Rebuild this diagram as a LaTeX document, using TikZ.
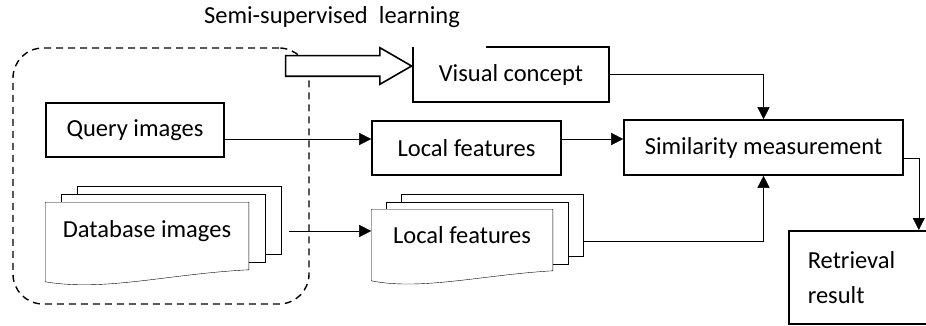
\documentclass[tikz,border=0pt]{standalone}
\usepackage{fontspec}
\setmainfont{Carlito}
\usetikzlibrary{arrows.meta,shapes.arrows,backgrounds}
\tikzset{
  box/.style={draw, rectangle, inner sep=0pt},
  docbox/.style={rectangle, inner sep=0pt},
  page/.style={draw, fill=white},
  arr/.style={-{Triangle[length=12pt,width=12pt]}}
}
\begin{document}
\begin{tikzpicture}[x=1pt, y=-1pt, line width=1.6pt,
    font=\fontsize{24.5}{35}\selectfont]
  \useasboundingbox (0,0) rectangle (926,326);
  \node[draw, line width=1.4pt, dash pattern=on 7pt off 5pt, rounded corners=30pt,
    minimum width=296pt, minimum height=256pt] (group) at (161,176) {};
  \node[box, minimum width=178pt, minimum height=54pt] (query) at (135,130) {Query images};
  \node[docbox, minimum width=202pt, minimum height=56pt] (dbimg) at (147,231) {Database images};
  \node[docbox, minimum width=194pt, minimum height=53pt] (visual) at (511,74.5) {Visual concept};
  \node[box, minimum width=189pt, minimum height=54pt] (local) at (466.5,148) {Local features};
  \node[docbox, minimum width=180pt, minimum height=50pt] (locb) at (462,235) {Local features};
  \node[box, minimum width=279pt, minimum height=55pt] (sim) at (763.5,147.5) {Similarity measurement};
  \node[box, anchor=north west, minimum width=160pt, minimum height=93pt,
    text width=122pt, inner xsep=19pt, align=left] (result) at (788,230) {Retrieval\\result};
  \node[single arrow, draw, fill=white, inner sep=9.5pt, minimum height=126pt,
    single arrow head extend=8pt, single arrow tip angle=60, anchor=tip]
    (semi) at ([yshift=8.5pt]visual.west) {};
  \node (semilabel) at (332,17) {Semi-supervised\ \ learning};
  \draw ([xshift=73pt]visual.north west) -- (visual.north east) -- (visual.south east)
    -- (visual.south west) -- (visual.north west);
  \begin{pgfonlayer}{background}
    \draw[page] ([xshift=32pt,yshift=6pt]dbimg.south west) rectangle ([xshift=32pt,yshift=16pt]dbimg.north east);
    \draw[page] ([xshift=16pt,yshift=-2pt]dbimg.south west) rectangle ([xshift=16pt,yshift=8pt]dbimg.north east);
    \draw[page] ([yshift=-10pt]dbimg.south east) -- (dbimg.north east) -- (dbimg.north west)
      -- ([yshift=-22pt]dbimg.south west) .. controls +(60,10) and +(-80,4) .. ([yshift=-10pt]dbimg.south east);
    \draw[page] ([xshift=30pt,yshift=5pt]locb.south west) rectangle ([xshift=30pt,yshift=15pt]locb.north east);
    \draw[page] ([xshift=15pt,yshift=-3pt]locb.south west) rectangle ([xshift=15pt,yshift=7pt]locb.north east);
    \draw[page] ([yshift=-10pt]locb.south east) -- (locb.north east) -- (locb.north west)
      -- ([yshift=-20pt]locb.south west) .. controls +(50,10) and +(-70,4) .. ([yshift=-10pt]locb.south east);
  \end{pgfonlayer}
  \coordinate (dbout) at ([xshift=40pt]dbimg.east);
  \coordinate (lbout) at ([xshift=30pt,yshift=-6pt]locb.east);
  \begin{scope}[arr]
    \draw ([yshift=-9pt]query.east) -- ([yshift=9pt]local.west);
    \draw ([yshift=9pt]local.east) -- ([yshift=8.5pt]sim.west);
    \draw (dbout) -- (dbout -| locb.west);
    \draw (lbout) -| (sim.south);
    \draw (visual.east) -| (sim.north);
    \draw ([yshift=-10.5pt]sim.east) -| ([xshift=50pt]result.north);
  \end{scope}
\end{tikzpicture}
\end{document}
